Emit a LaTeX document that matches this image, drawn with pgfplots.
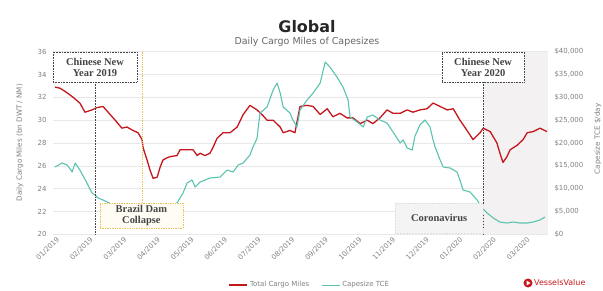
\documentclass[border=0pt]{standalone}
\usepackage{pgfplots}
\pgfplotsset{compat=1.18}
\usepackage{pgfplotstable}
\usepackage{fontspec}
\setmainfont{DejaVu Sans}
\newfontfamily\serifb{Liberation Serif}
\definecolor{redline}{HTML}{C4161C}
\definecolor{tealline}{HTML}{5CC2B0}
\definecolor{tickgrey}{HTML}{808080}
\definecolor{gridgrey}{HTML}{E8E8E8}
\definecolor{shadegrey}{HTML}{F3F1F1}
\definecolor{gold}{HTML}{E8C25A}
\definecolor{cream}{HTML}{FFFDF3}
\definecolor{boxgrey}{HTML}{F4F4F4}
\definecolor{annot}{HTML}{444444}

\pgfplotstableread{
m L
0.00 32.9
0.15 32.8
0.36 32.4
0.54 32.0
0.74 31.5
0.89 30.7
1.10 30.9
1.25 31.1
1.43 31.2
1.58 30.7
1.79 30.0
1.99 29.3
2.14 29.4
2.32 29.1
2.47 28.9
2.59 28.3
2.62 27.6
2.74 26.5
2.83 25.6
2.92 24.9
3.04 25.0
3.13 25.9
3.21 26.5
3.33 26.7
3.42 26.8
3.63 26.9
3.72 27.4
3.93 27.4
4.11 27.4
4.23 26.9
4.32 27.1
4.46 26.9
4.61 27.1
4.70 27.6
4.82 28.4
5.00 28.9
5.21 28.9
5.42 29.4
5.60 30.5
5.80 31.3
6.01 30.9
6.19 30.4
6.31 30.0
6.49 30.0
6.70 29.4
6.79 28.9
6.99 29.1
7.14 28.9
7.29 31.2
7.50 31.3
7.68 31.2
7.89 30.5
8.10 31.0
8.27 30.3
8.48 30.6
8.69 30.2
8.87 30.2
9.08 29.7
9.29 30.0
9.46 29.7
9.67 30.2
9.88 30.9
10.06 30.6
10.27 30.6
10.48 30.9
10.65 30.7
10.86 30.9
11.07 31.0
11.25 31.5
11.46 31.2
11.67 30.9
11.85 31.0
12.05 30.0
12.26 29.1
12.44 28.3
12.65 28.9
12.74 29.3
12.95 29.0
13.15 28.0
13.24 27.1
13.33 26.3
13.45 26.8
13.54 27.4
13.75 27.8
13.93 28.3
14.05 28.9
14.23 29.0
14.43 29.3
14.64 29.0
}\cargo

\pgfplotstableread{
m T
0.00 14740
0.21 15620
0.36 15180
0.51 13650
0.60 15620
0.74 14080
0.95 11240
1.10 9050
1.19 8610
1.28 7950
1.43 7510
1.55 7070
1.73 6420
2.00 6200
2.50 6000
3.00 5900
3.40 6200
3.63 6860
3.81 9050
3.93 11240
4.08 11900
4.17 10360
4.32 11460
4.61 12330
4.91 12550
5.12 14080
5.30 13650
5.45 15180
5.60 15620
5.80 17370
5.89 19130
6.01 21000
6.10 26570
6.31 27880
6.49 31600
6.61 33140
6.70 30950
6.79 27880
6.99 26570
7.08 25040
7.20 23510
7.29 27220
7.50 29420
7.68 30950
7.89 33140
8.04 37740
8.18 36640
8.39 34450
8.57 32260
8.72 29420
8.78 25700
8.99 24600
9.17 23510
9.29 25700
9.46 26130
9.67 25040
9.88 24380
10.06 22410
10.27 20000
10.36 20660
10.48 18900
10.63 18460
10.71 21500
10.86 23950
11.01 25040
11.16 23510
11.25 20660
11.31 19130
11.46 16280
11.55 14740
11.76 14520
11.96 13650
12.05 11900
12.14 9710
12.35 9270
12.56 7510
12.71 5760
12.86 4660
13.04 3570
13.24 2690
13.45 2470
13.63 2690
13.84 2470
14.05 2470
14.23 2690
14.43 3130
14.58 3790
}\tce

\begin{document}
\begin{tikzpicture}
\useasboundingbox (-53bp,-56.7bp) rectangle (550bp,234.3bp);

\begin{axis}[
  scale only axis,
  width=495bp, height=182.6bp,
  xmin=-0.06, xmax=14.67,
  ymin=20, ymax=36,
  ytick={20,22,...,36},
  xtick={0,...,14},
  xticklabels={01/2019,02/2019,03/2019,04/2019,05/2019,06/2019,07/2019,08/2019,09/2019,10/2019,11/2019,12/2019,01/2020,02/2020,03/2020},
  axis line style={draw=none},
  major tick length=0pt,
  ymajorgrids,
  major grid style={gridgrey, line width=0.5bp},
  /pgf/number format/assume math mode=true,
  tick label style={tickgrey},
  yticklabel style={font=\fontsize{7}{8}\selectfont, xshift=-3bp},
  xticklabel style={font=\fontsize{7}{8}\selectfont, rotate=45, anchor=north east, inner sep=0.5bp, yshift=-1.5bp},
  ylabel={Daily Cargo Miles (bn DWT / NM)},
  ylabel style={at={(axis description cs:-0.067,0.502)}, anchor=center, font=\fontsize{7.2}{8}\selectfont, tickgrey},
  legend style={at={(0.519,-0.278)}, anchor=center, draw=none, fill=none,
    legend columns=2, font=\fontsize{7}{8}\selectfont, text=tickgrey,
    /tikz/every even column/.append style={column sep=10bp}},
  legend image code/.code={\draw[#1] (0bp,0bp) -- (18bp,0bp);},
]
\fill[fill=shadegrey] (axis cs:12.74,20) rectangle (axis cs:14.67,36);
\addplot[redline, line width=1.3bp, line join=round] table[x=m, y=L] {\cargo};
\addlegendentry{Total Cargo Miles}
\addlegendimage{tealline, line width=1.1bp}
\addlegendentry{Capesize TCE}
\end{axis}

\begin{axis}[
  scale only axis,
  width=495bp, height=182.6bp,
  xmin=-0.06, xmax=14.67,
  ymin=0, ymax=40000,
  axis x line=none,
  axis y line*=right,
  axis line style={draw=none},
  major tick length=0pt,
  ytick={0,5000,...,40000},
  scaled y ticks=false,
  /pgf/number format/.cd, fixed, 1000 sep={,}, assume math mode=true,
  /pgfplots/.cd,
  yticklabel={\$\pgfmathprintnumber{\tick}},
  yticklabel style={tickgrey, font=\fontsize{7}{8}\selectfont, xshift=3bp},
  ylabel={Capesize TCE \$/day},
  ylabel style={at={(axis description cs:1.101,0.522)}, anchor=center, font=\fontsize{7.2}{8}\selectfont, tickgrey},
]
\addplot[tealline, line width=1.1bp, line join=round] table[x=m, y=T] {\tce};

% annotations
\draw[annot, densely dotted, line width=0.6bp] (axis cs:1.19,0) -- (axis cs:1.19,33350);
\draw[annot, densely dotted, line width=0.6bp] (axis cs:12.74,0) -- (axis cs:12.74,33350);
\draw[gold, densely dotted, line width=0.8bp] (axis cs:2.59,6857) -- (axis cs:2.59,40000);

\node[draw=annot, densely dotted, fill=white, line width=0.6bp, minimum width=84bp, minimum height=30bp, inner sep=0pt,
  align=center, font=\serifb\bfseries\fontsize{10.5}{11}\selectfont, text=annot]
  at (axis cs:1.19,36650) {Chinese New\\Year 2019};
\node[draw=gold, densely dotted, fill=cream, line width=0.7bp, minimum width=83bp, minimum height=25bp, inner sep=0pt,
  align=center, font=\serifb\bfseries\fontsize{10.5}{11}\selectfont, text=annot]
  at (axis cs:2.57,4118) {Brazil Dam\\Collapse};
\node[draw=annot, densely dotted, fill=white, line width=0.6bp, minimum width=82bp, minimum height=30bp, inner sep=0pt,
  align=center, font=\serifb\bfseries\fontsize{10.5}{11}\selectfont, text=annot]
  at (axis cs:12.74,36650) {Chinese New\\Year 2020};
\node[draw=black!12, densely dotted, fill=boxgrey, line width=0.5bp, minimum width=88bp, minimum height=30bp, inner sep=0pt,
  align=center, font=\serifb\bfseries\fontsize{10.5}{11}\selectfont, text=annot]
  at (axis cs:11.43,3571) {Coronavirus};
\end{axis}

% titles
\node[font=\bfseries\fontsize{16}{18}\selectfont, text=black!85] at (254bp,207.3bp) {Global};
\node[font=\fontsize{9.5}{10}\selectfont, text=black!60] at (254bp,192.6bp) {Daily Cargo Miles of Capesizes};

% logo
\fill[redline] (475bp,-48.7bp) circle (4.5bp);
\fill[white] (473.5bp,-51.2bp) -- (473.5bp,-46.2bp) -- (477.5bp,-48.7bp) -- cycle;
\node[anchor=west, inner sep=0pt, text=redline, font=\fontsize{8}{9}\selectfont] at (481bp,-48.7bp) {VesselsValue};
\end{tikzpicture}
\end{document}
